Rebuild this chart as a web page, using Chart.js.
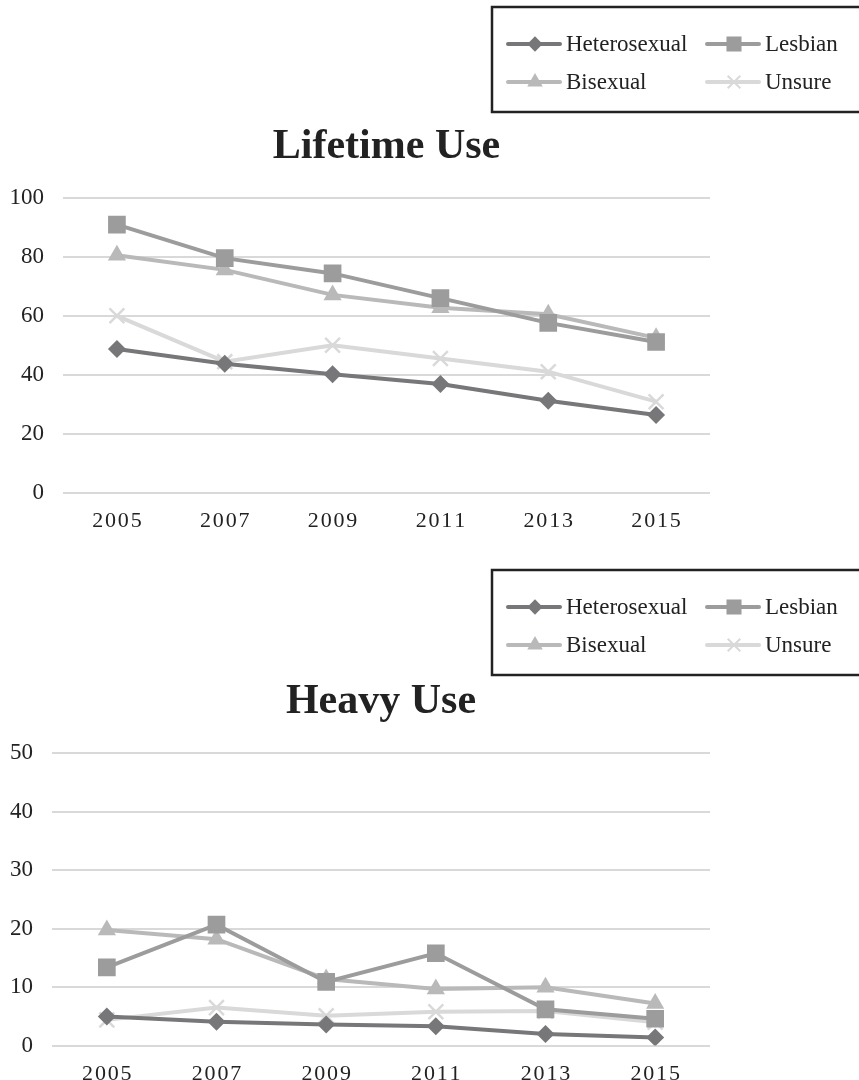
<!DOCTYPE html>
<html>
<head>
<meta charset="utf-8">
<script src="https://cdn.jsdelivr.net/npm/chart.js@4/dist/chart.umd.min.js"></script>
<style>
  html, body { margin: 0; padding: 0; background: #fff; }
  #wrap { position: relative; width: 859px; height: 1080px; overflow: hidden; }
  .panel { position: absolute; left: 0; width: 859px; }
  #p1 { top: 0; height: 555px; }
  #p2 { top: 555px; height: 551px; }
</style>
</head>
<body>
<div id="wrap">
  <div class="panel" id="p1"><canvas id="c1"></canvas></div>
  <div class="panel" id="p2"><canvas id="c2"></canvas></div>
</div>
<script>
const years = ['2005', '2007', '2009', '2011', '2013', '2015'];
const seriesNames = ['Heterosexual', 'Lesbian', 'Bisexual', 'Unsure'];

// Lifetime use (%)
const lifetimeHeterosexual = [48.8, 43.8, 40.2, 36.9, 31.2, 26.4];
const lifetimeLesbian      = [91.1, 79.7, 74.5, 66.1, 57.7, 51.2];
const lifetimeBisexual     = [80.7, 75.7, 67.2, 62.8, 60.6, 52.6];
const lifetimeUnsure       = [60.1, 44.5, 50.1, 45.6, 41.1, 30.9];
const lifetimeTicks = [0, 20, 40, 60, 80, 100];

// Heavy use (%)
const heavyHeterosexual = [5.0, 4.1, 3.6, 3.3, 2.0, 1.4];
const heavyLesbian      = [13.4, 20.7, 10.9, 15.8, 6.2, 4.6];
const heavyBisexual     = [19.8, 18.2, 11.4, 9.7, 10.0, 7.2];
const heavyUnsure       = [4.4, 6.5, 5.1, 5.8, 5.9, 4.0];
const heavyTicks = [0, 10, 20, 30, 40, 50];

const colors = ['#77777a', '#9c9c9c', '#b9b9b9', '#d9d9d9'];
const markers = ['rectRot', 'rect', 'triangle', 'crossRot'];
const markerRadius = [9, 12.5, 10.5, 10.5];
const serif = "'Liberation Serif', 'Times New Roman', serif";

function makeDatasets(values) {
  return values.map((v, i) => ({
    label: seriesNames[i],
    data: v,
    borderColor: colors[i],
    backgroundColor: colors[i],
    borderWidth: 4,
    pointStyle: markers[i],
    pointRadius: markerRadius[i],
    pointBorderWidth: markers[i] === 'crossRot' ? 2.5 : 0,
    pointBorderColor: colors[i],
    pointBackgroundColor: colors[i],
    tension: 0
  }));
}

// Two-column legend in a framed box at the top right
const boxedLegend = {
  id: 'boxedLegend',
  afterDraw(chart, args, opts) {
    const ctx = chart.ctx;
    ctx.save();
    ctx.strokeStyle = '#222';
    ctx.lineWidth = 2.5;
    ctx.strokeRect(opts.x, opts.y, opts.w, opts.h);
    ctx.font = '23px ' + serif;
    ctx.textBaseline = 'middle';
    chart.data.datasets.forEach((ds, i) => {
      const col = i % 2, row = Math.floor(i / 2);
      const lx = opts.x + 16 + col * 199;
      const ly = opts.y + 37 + row * 38;
      const isCross = ds.pointStyle === 'crossRot';
      ctx.strokeStyle = ds.borderColor;
      ctx.lineWidth = 4;
      ctx.lineCap = 'round';
      ctx.beginPath();
      ctx.moveTo(lx, ly);
      ctx.lineTo(lx + 52, ly);
      ctx.stroke();
      ctx.lineCap = 'butt';
      ctx.fillStyle = ds.borderColor;
      ctx.lineWidth = isCross ? 2 : 0.01;
      Chart.helpers.drawPoint(ctx, {
        pointStyle: ds.pointStyle,
        radius: ds.pointRadius * 0.85,
        rotation: 0,
        borderWidth: isCross ? 2 : 0
      }, lx + 27, ly);
      ctx.fillStyle = '#222';
      ctx.fillText(ds.label, lx + 58, ly + 1);
    });
    ctx.restore();
  }
};

function spaced(label) {
  return String(label).split('').join('\u200A');
}

function makeChart(canvasId, title, values, ticks, legendY, axisWidth, bottomPad) {
  const max = ticks[ticks.length - 1];
  return new Chart(document.getElementById(canvasId), {
    type: 'line',
    data: { labels: years, datasets: makeDatasets(values) },
    plugins: [boxedLegend],
    options: {
      responsive: true,
      maintainAspectRatio: false,
      animation: false,
      layout: { padding: { top: 112, left: 10, right: 149, bottom: bottomPad } },
      plugins: {
        legend: { display: false },
        tooltip: { enabled: false },
        boxedLegend: { x: 492, y: legendY, w: 380, h: 105 },
        title: {
          display: true,
          text: title,
          fullSize: false,
          color: '#222',
          font: { family: serif, size: 42, weight: 'bold' },
          padding: { top: 10, bottom: 26 }
        }
      },
      scales: {
        x: {
          offset: true,
          grid: { display: false, drawTicks: false },
          border: { display: false },
          ticks: {
            color: '#222',
            padding: 15,
            font: { family: serif, size: 22 },
            maxRotation: 0,
            callback: function (v) { return spaced(this.getLabelForValue(v)); }
          }
        },
        y: {
          min: 0,
          max: max,
          afterBuildTicks: (axis) => { axis.ticks = ticks.map(t => ({ value: t })); },
          afterFit: (axis) => { axis.width = axisWidth; },
          grid: { color: '#d9d9d9', lineWidth: 2, drawTicks: false },
          border: { display: false },
          ticks: {
            color: '#222',
            padding: 19,
            font: { family: serif, size: 23 }
          }
        }
      }
    }
  });
}

makeChart('c1', 'Lifetime Use',
  [lifetimeHeterosexual, lifetimeLesbian, lifetimeBisexual, lifetimeUnsure],
  lifetimeTicks, 7, 53, 6);
makeChart('c2', 'Heavy Use',
  [heavyHeterosexual, heavyLesbian, heavyBisexual, heavyUnsure],
  heavyTicks, 15, 42, 4);
</script>
</body>
</html>
